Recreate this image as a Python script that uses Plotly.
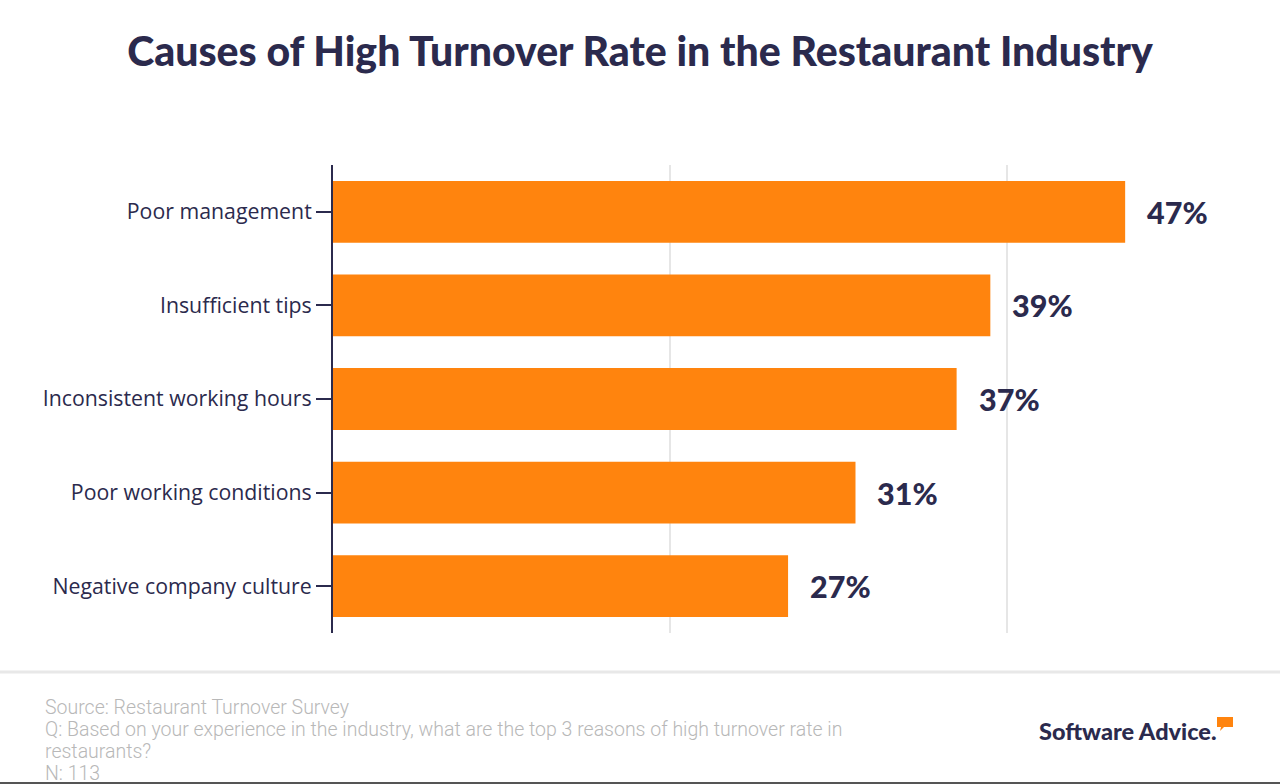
import plotly.graph_objects as go

categories = ["Poor management", "Insufficient tips", "Inconsistent working hours",
              "Poor working conditions", "Negative company culture"]
values = [47, 39, 37, 31, 27]
value_labels = ["47%", "39%", "37%", "31%", "27%"]

NAVY = "#2B2A4D"
ORANGE = "#FF840E"

fig = go.Figure()
fig.add_trace(go.Bar(
    y=categories, x=values, orientation="h",
    marker=dict(color=ORANGE, line=dict(width=0)),
    hoverinfo="skip",
))

for c, v, t in zip(categories, values, value_labels):
    fig.add_annotation(x=v, y=c, text=t, showarrow=False, xanchor="left", xshift=20,
                       font=dict(family="Lato", size=30.5, color=NAVY, weight=900))

fig.update_layout(
    width=1280, height=784,
    paper_bgcolor="white", plot_bgcolor="white",
    margin=dict(l=333, r=20, t=165, b=151),
    bargap=0.34,
    showlegend=False,
    title=dict(text="Causes of High Turnover Rate in the Restaurant Industry",
               x=0.5, xanchor="center", y=0.934, yanchor="middle",
               font=dict(family="Lato", size=41, color=NAVY, weight=900)),
    xaxis=dict(range=[0, 55], showgrid=True, gridcolor="#E6E6E6", gridwidth=2,
               tickvals=[20, 40], showticklabels=False, zeroline=False, fixedrange=True),
    yaxis=dict(autorange="reversed", showline=True, linecolor=NAVY, linewidth=2,
               ticks="outside", ticklen=15, tickcolor=NAVY, tickwidth=2,
               tickfont=dict(family="Open Sans", size=21.3, color=NAVY)),
)

# footer separator and bottom border
fig.add_shape(type="line", xref="paper", yref="paper", x0=-0.4, x1=1.03,
              y0=-(672-633)/468, y1=-(672-633)/468, line=dict(color="#E8E8E8", width=3))
fig.add_shape(type="line", xref="paper", yref="paper", x0=-0.4, x1=1.03,
              y0=-(783-633)/468, y1=-(783-633)/468, line=dict(color="#555555", width=2))

footer_lines = ["Source: Restaurant Turnover Survey",
                "Q: Based on your experience in the industry, what are the top 3 reasons of high turnover rate in",
                "restaurants?",
                "N: 113"]
footer_y = [707, 729, 751, 773]
for t, yy in zip(footer_lines, footer_y):
    fig.add_annotation(xref="paper", yref="paper", x=(43-333)/927, y=-(yy-633)/468,
                       xanchor="left", yanchor="middle", text=t, showarrow=False,
                       font=dict(family="Roboto", size=19.5, color="#B8B8B8", weight=300))

# logo
fig.add_annotation(xref="paper", yref="paper", x=(1219-333)/927, y=-(731-633)/468,
                   xanchor="right", yanchor="middle", text="Software Advice.", showarrow=False,
                   font=dict(family="Lato", size=23.5, color=NAVY, weight=900))
fig.add_shape(type="path", xref="paper", yref="paper",
              path="M {0} {1} L {2} {1} L {2} {3} L {4} {3} L {5} {6} L {7} {3} L {0} {3} Z".format(
                  (1217-333)/927, -(717-633)/468, (1233-333)/927, -(727-633)/468,
                  (1224-333)/927, (1220-333)/927, -(731-633)/468, (1221-333)/927),
              fillcolor=ORANGE, line=dict(width=0))

fig.write_html("out.html", config={"displayModeBar": False},
               post_script="document.body.style.margin='0';document.body.style.padding='0';document.body.style.overflow='hidden';")
